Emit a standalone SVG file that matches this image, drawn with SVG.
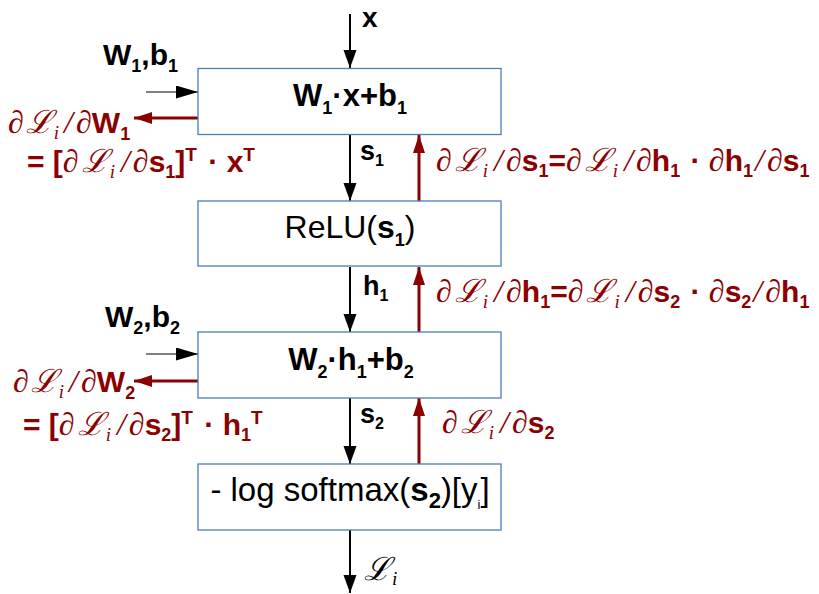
<svg xmlns="http://www.w3.org/2000/svg" width="819" height="594" viewBox="0 0 819 594">
<defs>
<style>
.box{fill:#fff;stroke:#4a7ebb;stroke-width:1.3}
.t{font-family:"Liberation Sans",Arial,sans-serif;fill:#000}
.b{font-weight:bold}
.r{fill:#8b0000}
.m{font-family:"Liberation Serif","DejaVu Serif",serif;font-style:italic;font-weight:normal;font-size:32px}
.mi{font-family:"Liberation Serif","DejaVu Serif",serif;font-style:italic;font-weight:normal;font-size:19px}
.blk{stroke:#000;stroke-width:2;fill:none}
.thin{stroke:#000;stroke-width:1;fill:none}
.red{stroke:#8b0000;stroke-width:3;fill:none}
</style>
<marker id="ab" markerUnits="userSpaceOnUse" markerWidth="20" markerHeight="14" refX="18" refY="6.5" orient="auto"><path d="M0,0 L18,6.5 L0,13 z" fill="#000"/></marker>
<marker id="ai" markerUnits="userSpaceOnUse" markerWidth="24" markerHeight="14" refX="22" refY="6.5" orient="auto"><path d="M0,0 L22,6.5 L0,13 z" fill="#000"/></marker>
<marker id="ar" markerUnits="userSpaceOnUse" markerWidth="20" markerHeight="14" refX="18" refY="6" orient="auto"><path d="M0,0 L18,6 L0,12 z" fill="#8b0000"/></marker>
</defs>
<rect width="819" height="594" fill="#fff"/>

<g id="connectors">
<line class="blk" x1="350" y1="14" x2="350" y2="68" marker-end="url(#ab)"/>
<line class="blk" x1="350" y1="135" x2="350" y2="201" marker-end="url(#ab)"/>
<line class="blk" x1="350" y1="267" x2="350" y2="332" marker-end="url(#ab)"/>
<line class="blk" x1="350" y1="398" x2="350" y2="464" marker-end="url(#ab)"/>
<line class="blk" x1="350" y1="530" x2="350" y2="593" marker-end="url(#ab)"/>
<line class="thin" x1="146" y1="92" x2="198" y2="92" marker-end="url(#ai)"/>
<line class="thin" x1="146" y1="354" x2="198" y2="354" marker-end="url(#ai)"/>
<line class="red" x1="198" y1="118" x2="134" y2="118" marker-end="url(#ar)"/>
<line class="red" x1="198" y1="381" x2="134" y2="381" marker-end="url(#ar)"/>
<line class="red" x1="419" y1="201" x2="419" y2="135" marker-end="url(#ar)"/>
<line class="red" x1="419" y1="332" x2="419" y2="267" marker-end="url(#ar)"/>
<line class="red" x1="419" y1="464" x2="419" y2="398" marker-end="url(#ar)"/>
</g>

<g id="node1">
<rect class="box" x="198" y="68.5" width="303" height="66"/>
<text class="t b" x="350" y="106" font-size="31" text-anchor="middle">W<tspan font-size="18" dy="8">1</tspan><tspan dy="-8">·x+b</tspan><tspan font-size="18" dy="8">1</tspan></text>
</g>
<g id="node2">
<rect class="box" x="198" y="201" width="303" height="65"/>
<text class="t" x="350" y="238" font-size="32" text-anchor="middle">ReLU(<tspan class="b">s</tspan><tspan class="b" font-size="18" dy="8">1</tspan><tspan dy="-8">)</tspan></text>
</g>
<g id="node3">
<rect class="box" x="198" y="332" width="303" height="66"/>
<text class="t b" x="351" y="370" font-size="31" text-anchor="middle">W<tspan font-size="18" dy="8">2</tspan><tspan dy="-8">·h</tspan><tspan font-size="18" dy="8">1</tspan><tspan dy="-8">+b</tspan><tspan font-size="18" dy="8">2</tspan></text>
</g>
<g id="node4">
<rect class="box" x="198" y="464" width="303" height="66"/>
<text class="t" x="350" y="501" font-size="33" text-anchor="middle">- log softmax(<tspan class="b">s</tspan><tspan class="b" font-size="22" dy="7">2</tspan><tspan dy="-7">)[y</tspan><tspan font-size="13" dy="8">i</tspan><tspan dy="-8">]</tspan></text>
</g>

<g id="labels">
<text class="t b" x="362" y="27" font-size="28">x</text>
<text class="t b" x="103" y="65" font-size="30">W<tspan font-size="18" dy="7">1</tspan><tspan dy="-7">,b</tspan><tspan font-size="18" dy="7">1</tspan></text>
<text class="t b" x="105" y="327" font-size="30">W<tspan font-size="18" dy="7">2</tspan><tspan dy="-7">,b</tspan><tspan font-size="18" dy="7">2</tspan></text>
<text class="t b" x="360" y="160" font-size="27">s<tspan font-size="16" dy="6">1</tspan></text>
<text class="t b" x="363" y="295" font-size="27">h<tspan font-size="16" dy="6">1</tspan></text>
<text class="t b" x="360" y="423" font-size="27">s<tspan font-size="16" dy="6">2</tspan></text>
<text class="t" x="364" y="580"><tspan class="m">ℒ</tspan><tspan class="mi" dy="5" dx="1">i</tspan></text>
</g>

<g id="grad-left">
<text class="t b r" x="8" y="133" font-size="30"><tspan class="m">∂</tspan><tspan class="m" dx="2">ℒ</tspan><tspan class="mi" dy="6" dx="1">i</tspan><tspan class="m" dy="-6" dx="5">/</tspan><tspan class="m" dx="3">∂</tspan>W<tspan font-size="18" dy="7">1</tspan></text>
<text class="t b r" x="27" y="172" font-size="30">= [<tspan class="m">∂</tspan><tspan class="m" dx="3">ℒ</tspan><tspan class="mi" dy="6" dx="1">i</tspan><tspan class="m" dy="-6" dx="6">/</tspan><tspan class="m" dx="3">∂</tspan>s<tspan font-size="18" dy="6">1</tspan><tspan dy="-6">]</tspan><tspan font-size="19" dy="-11">T</tspan><tspan dy="11" dx="3"> · x</tspan><tspan font-size="19" dy="-11">T</tspan></text>
<text class="t b r" x="13" y="392" font-size="30"><tspan class="m">∂</tspan><tspan class="m" dx="2">ℒ</tspan><tspan class="mi" dy="6" dx="1">i</tspan><tspan class="m" dy="-6" dx="5">/</tspan><tspan class="m" dx="3">∂</tspan>W<tspan font-size="18" dy="7">2</tspan></text>
<text class="t b r" x="23" y="435" font-size="30">= [<tspan class="m">∂</tspan><tspan class="m" dx="3">ℒ</tspan><tspan class="mi" dy="6" dx="1">i</tspan><tspan class="m" dy="-6" dx="6">/</tspan><tspan class="m" dx="3">∂</tspan>s<tspan font-size="18" dy="6">2</tspan><tspan dy="-6">]</tspan><tspan font-size="19" dy="-11">T</tspan><tspan dy="11" dx="3"> · h</tspan><tspan font-size="18" dy="6">1</tspan><tspan font-size="19" dy="-17">T</tspan></text>
</g>

<g id="grad-right">
<text class="t b r" x="436" y="171" font-size="30"><tspan class="m">∂</tspan><tspan class="m" dx="3">ℒ</tspan><tspan class="mi" dy="6" dx="1">i</tspan><tspan class="m" dy="-6" dx="6">/</tspan><tspan class="m" dx="3">∂</tspan>s<tspan font-size="18" dy="6">1</tspan><tspan dy="-6">=</tspan><tspan class="m">∂</tspan><tspan class="m" dx="3">ℒ</tspan><tspan class="mi" dy="6" dx="1">i</tspan><tspan class="m" dy="-6" dx="6">/</tspan><tspan class="m" dx="3">∂</tspan>h<tspan font-size="18" dy="6">1</tspan><tspan dy="-6" dx="2"> · </tspan><tspan class="m">∂</tspan>h<tspan font-size="18" dy="6">1</tspan><tspan class="m" dy="-6" dx="2">/</tspan><tspan class="m" dx="3">∂</tspan>s<tspan font-size="18" dy="6">1</tspan></text>
<text class="t b r" x="436" y="302" font-size="30"><tspan class="m">∂</tspan><tspan class="m" dx="3">ℒ</tspan><tspan class="mi" dy="6" dx="1">i</tspan><tspan class="m" dy="-6" dx="6">/</tspan><tspan class="m" dx="3">∂</tspan>h<tspan font-size="18" dy="6">1</tspan><tspan dy="-6">=</tspan><tspan class="m">∂</tspan><tspan class="m" dx="3">ℒ</tspan><tspan class="mi" dy="6" dx="1">i</tspan><tspan class="m" dy="-6" dx="6">/</tspan><tspan class="m" dx="3">∂</tspan>s<tspan font-size="18" dy="6">2</tspan><tspan dy="-6" dx="2"> · </tspan><tspan class="m">∂</tspan>s<tspan font-size="18" dy="6">2</tspan><tspan class="m" dy="-6" dx="2">/</tspan><tspan class="m" dx="3">∂</tspan>h<tspan font-size="18" dy="6">1</tspan></text>
<text class="t b r" x="442" y="433" font-size="30"><tspan class="m">∂</tspan><tspan class="m" dx="3">ℒ</tspan><tspan class="mi" dy="6" dx="1">i</tspan><tspan class="m" dy="-6" dx="6">/</tspan><tspan class="m" dx="3">∂</tspan>s<tspan font-size="18" dy="6">2</tspan></text>
</g>
</svg>
